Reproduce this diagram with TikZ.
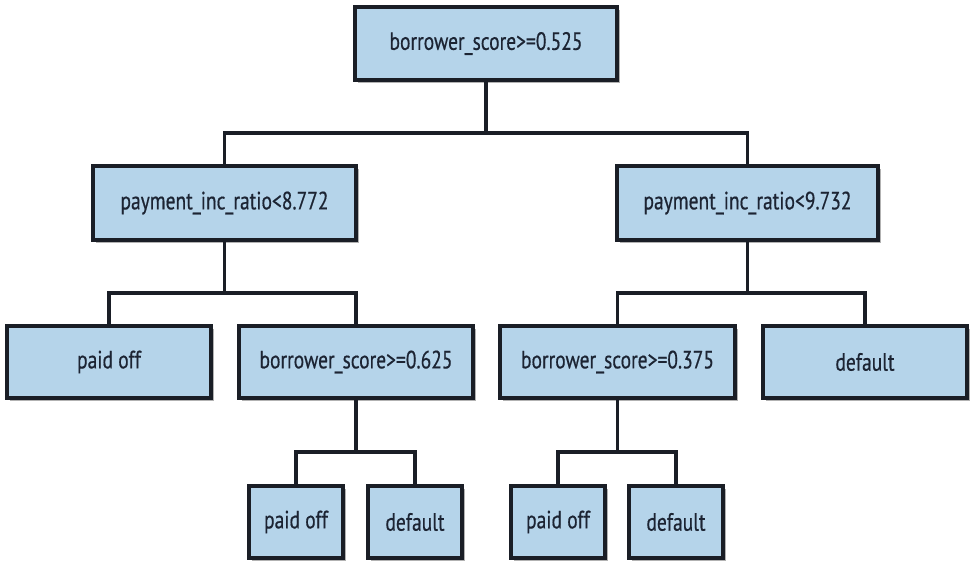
\documentclass[tikz,border=0pt]{standalone}
\usepackage{fontspec}
\setmainfont[FakeStretch=0.78,FakeBold=0.5]{PT Sans}
\usetikzlibrary{shadows}
\definecolor{boxfill}{HTML}{B5D4EA}
\definecolor{boxline}{HTML}{1A1E26}
\definecolor{txt}{HTML}{1C2433}
\tikzset{
  treebox/.style={draw=boxline, line width=3.2pt, fill=boxfill, rectangle,
    minimum height=72pt, inner sep=0pt, text=txt,
    font=\fontsize{25}{29}\selectfont,
    drop shadow={shadow xshift=3pt, shadow yshift=-3pt, fill=black, opacity=0.3}},
  link/.style={draw=boxline, line width=3.2pt}
}
\begin{document}
\begin{tikzpicture}[x=1pt,y=-1pt]
\useasboundingbox (0,0) rectangle (973,563);
\node[treebox, minimum width=262pt, minimum height=73pt] (root) at (486,43.5) {borrower\_score>=0.525};
\node[treebox, minimum width=263pt, minimum height=74pt] (la) at (224.5,203) {payment\_inc\_ratio<8.772};
\node[treebox, minimum width=261pt, minimum height=74pt] (ra) at (747.5,203) {payment\_inc\_ratio<9.732};
\node[treebox, minimum width=204pt] (lpo) at (109,362) {paid off};
\node[treebox, minimum width=234pt] (lbs) at (356,362) {borrower\_score>=0.625};
\node[treebox, minimum width=235pt] (rbs) at (617.5,362) {borrower\_score>=0.375};
\node[treebox, minimum width=204pt] (rdf) at (865,362) {default};
\node[treebox, minimum width=94pt] (lpo2) at (296,522) {paid off};
\node[treebox, minimum width=94pt] (ldf2) at (415,522) {default};
\node[treebox, minimum width=94pt] (rpo2) at (558,522) {paid off};
\node[treebox, minimum width=94pt] (rdf2) at (676,522) {default};
\coordinate (j1) at (486,133);
\coordinate (j2) at (224.5,293);
\coordinate (j3) at (747.5,293);
\coordinate (j4) at (356,452);
\coordinate (j5) at (617.5,452);
\draw[link] (root.south) -- (j1);
\draw[link] (la.north) |- (j1) -| (ra.north);
\draw[link] (la.south) -- (j2);
\draw[link] (lpo.north) |- (j2) -| (lbs.north);
\draw[link] (ra.south) -- (j3);
\draw[link] (rbs.north) |- (j3) -| (rdf.north);
\draw[link] (lbs.south) -- (j4);
\draw[link] (lpo2.north) |- (j4) -| (ldf2.north);
\draw[link] (rbs.south) -- (j5);
\draw[link] (rpo2.north) |- (j5) -| (rdf2.north);
\end{tikzpicture}
\end{document}
